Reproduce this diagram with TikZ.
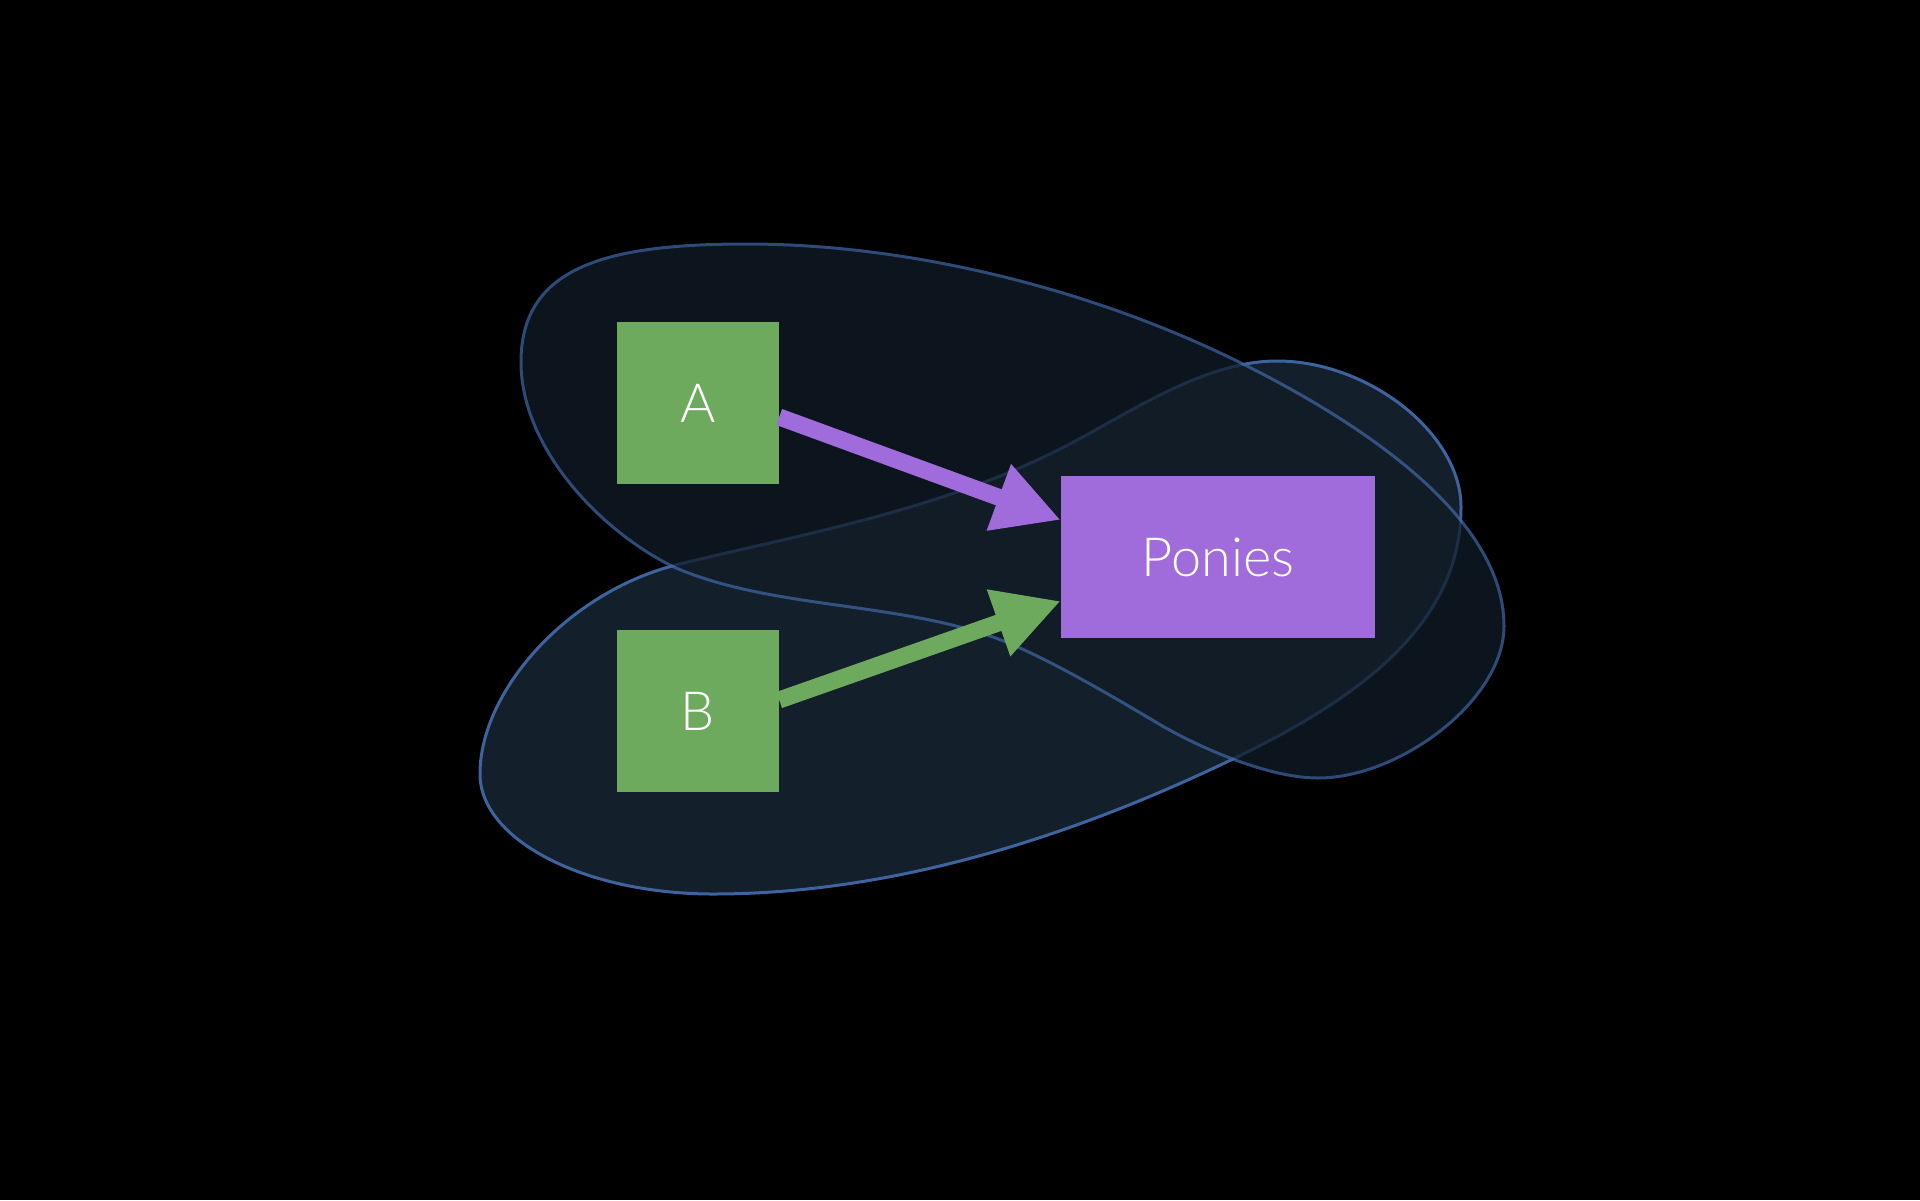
\documentclass[tikz,border=0pt]{standalone}
\usepackage{fontspec}
\setmainfont{Lato}[UprightFont={* Light}]
\usetikzlibrary{arrows.meta}
\definecolor{bg}{HTML}{000000}
\definecolor{nodegreen}{HTML}{6EAA5E}
\definecolor{nodepurple}{HTML}{A06CDB}
\definecolor{upfill}{HTML}{111C27}
\definecolor{lowfill}{HTML}{131F2A}
\definecolor{blobline}{HTML}{3E64A0}
\tikzset{
  box/.style={fill=#1, draw=none, text=white, inner sep=0pt, font=\fontsize{54}{58}\selectfont},
  sq/.style={box=nodegreen, minimum width=162pt, minimum height=162pt},
  wide/.style={box=nodepurple, minimum width=314pt, minimum height=162pt},
  conn/.style={draw=#1, line width=17pt, -{Triangle[length=66pt,width=66pt]}},
  blob/.style={fill=#1, draw=blobline, line width=3pt},
}
\begin{document}
\begin{tikzpicture}[x=1pt,y=-1pt]
\fill[bg] (0,0) rectangle (1920,1200);
\useasboundingbox (0,0) rectangle (1920,1200);
% lower blob
\path[blob=lowfill]
  (480,774) .. controls (480,690) and (569,592) .. (676,565)
  .. controls (783,538) and (933,513) .. (1058,450)
  .. controls (1121,419) and (1200,361) .. (1277,361)
  .. controls (1369,361) and (1461,434) .. (1461,507)
  .. controls (1461,620) and (1368,694) .. (1233,759)
  .. controls (1071,837) and (893,894) .. (713,894)
  .. controls (585,894) and (480,840) .. (480,774) -- cycle;
% upper blob
\begin{scope}[transparency group, opacity=0.75]
\path[blob=upfill]
  (521,362) .. controls (521,265) and (610,244) .. (747,244)
  .. controls (912,244) and (1095,290) .. (1243,364)
  .. controls (1359,422) and (1504,516) .. (1504,626)
  .. controls (1504,700) and (1400,778) .. (1318,778)
  .. controls (1268,778) and (1198,747) .. (1159,724)
  .. controls (1107,693) and (1037,652) .. (990,636)
  .. controls (891,602) and (770,608) .. (676,568)
  .. controls (604,534) and (521,450) .. (521,362) -- cycle;
\end{scope}
% nodes
\node[sq] (A) at (698,403) {A};
\node[sq] (B) at (698,711) {B};
\node[wide] (P) at (1218,557) {Ponies};
% connectors
\draw[conn=nodepurple] ([yshift=-14pt]A.east) -- ([yshift=37pt]P.west);
\draw[conn=nodegreen] ([yshift=11pt]B.east) -- ([yshift=-44pt]P.west);
\end{tikzpicture}
\end{document}
